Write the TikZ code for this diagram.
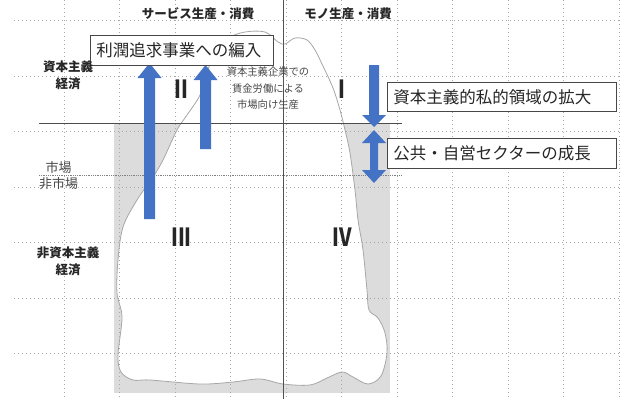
\documentclass[tikz,border=0pt]{standalone}
\usepackage{fontspec}
\newfontfamily\jp{Noto Sans CJK JP}
\definecolor{abl}{HTML}{4472C4}
\definecolor{regiongray}{HTML}{DCDCDC}
\definecolor{txt}{HTML}{262626}
\tikzset{
  gridl/.style={draw=gray!70, line width=0.8pt, dash pattern=on 0.8pt off 3.2pt},
  hdr/.style={font=\jp\bfseries\fontsize{12.5}{15}\selectfont, text=txt, inner sep=0pt},
  rowlab/.style={font=\jp\bfseries\fontsize{12.5}{17}\selectfont, text=txt, inner sep=0pt, align=center},
  mktlab/.style={font=\jp\fontsize{13}{15}\selectfont, text=txt!85, inner sep=0pt},
  roman/.style={font=\jp\bfseries\fontsize{25}{27}\selectfont, text=txt, inner sep=0pt},
  small/.style={font=\jp\fontsize{10.3}{16.5}\selectfont, text=txt!85, inner sep=0pt, align=center},
  tbox/.style={draw=txt!85, line width=0.9pt, fill=white, anchor=north west, inner xsep=6pt, inner ysep=0pt,
     align=left, font=\jp\fontsize{16.5}{18}\selectfont, text=txt}
}
\newcommand\blkup[4]{%
  \fill[abl] ({#1-5.5},#2) -- ({#1-5.5},#4) -- ({#1-12},#4) -- (#1,#3) -- ({#1+12},#4) -- ({#1+5.5},#4) -- ({#1+5.5},#2) -- cycle;}
\newcommand\narrow[1]{\scalebox{0.78}[1]{#1}}
\begin{document}
\begin{tikzpicture}[x=1pt,y=-1pt]
\useasboundingbox (0,0) rectangle (620,399);
% gray region
\fill[regiongray] (114,123) rectangle (390,393);
% blob
\draw[fill=white, draw=gray!70, line width=0.8pt] plot[smooth cycle, tension=0.55] coordinates {
 (245,32) (265,32) (278,42) (285,44) (295,38) (307,40) (315,50) (322,64) (333,88) (340,110) (345,130)
 (350,153) (355,190) (358,220) (363,250) (367,290) (369,310) (378,318) (385,333) (387,353) (381,376)
 (368,384) (353,377) (342,372) (327,378) (310,385) (283,384) (260,379) (233,382) (200,384) (150,380)
 (133,380) (121,372) (118,355) (122,317) (117,293) (118,260) (123,227) (137,200) (153,177) (163,160)
 (177,130) (187,115) (200,95) (208,70) (215,50) (228,38)};
% grid
\foreach \i in {0,...,10} \draw[gridl] ({64+55.5*\i},0) -- ({64+55.5*\i},399);
\foreach \j in {0,...,6} \draw[gridl] (14,{20.5+55.5*\j}) -- (620,{20.5+55.5*\j});
% dividing lines
\draw[draw=gray!60!black, line width=0.9pt] (39,123) -- (402,123);
\draw[draw=gray, line width=0.8pt, dash pattern=on 0.9pt off 0.9pt] (39,175) -- (402,175);
\draw[draw=txt!80, line width=0.9pt] (283,0) -- (283,399);
% arrows
\blkup{149.5}{219}{63}{78}
\blkup{205.5}{149}{65}{80}
\fill[abl] (369,65) -- (369,115) -- (362,115) -- (374,127) -- (386,115) -- (379,115) -- (379,65) -- cycle;
\fill[abl] (374,130) -- (386,143) -- (378,143) -- (378,170) -- (386,170) -- (374,183) -- (362,170) -- (370,170) -- (370,143) -- (362,143) -- cycle;
% boxes
\node[tbox, minimum width=183pt, minimum height=30pt, text width=171pt] (b1) at (90,35) {利潤追求事業への編入};
\node[tbox, minimum width=229pt, minimum height=29pt, text width=217pt] (b2) at (387,82) {資本主義的私的領域の拡大};
\node[tbox, minimum width=229pt, minimum height=30pt, text width=217pt] (b3) at (387,138) {公共・自営セクターの成長};
% headings
\node[hdr] (svc) at (198,14) {サービス生産・消費};
\node[hdr] (mono) at (348,14) {モノ生産・消費};
\node[rowlab] (cap) at (68,75.5) {資本主義\\経済};
\node[rowlab] (ncap) at (68,261.5) {非資本主義\\経済};
\node[mktlab] (mkt) at (58.5,168) {市場};
\node[mktlab] (nmkt) at (58.5,184) {非市場};
% quadrant numerals
\node[roman] (q2) at (181,89) {\narrow{II}};
\node[roman] (q1) at (342,89) {\narrow{I}};
\node[roman] (q3) at (181.5,237.5) {\narrow{III}};
\node[roman] (q4) at (342,237.5) {\narrow{IV}};
% note
\node[small] (note) at (268,88.5) {資本主義企業での\\賃金労働による\\市場向け生産};
\end{tikzpicture}
\end{document}
